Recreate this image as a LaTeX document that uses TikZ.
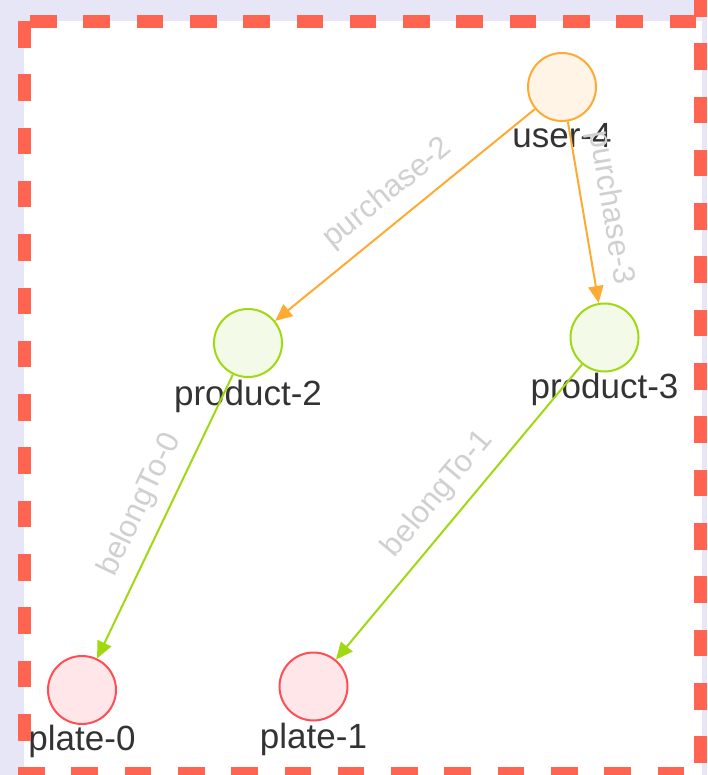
\documentclass[tikz,border=0pt]{standalone}
\usepackage{fontspec}
\setmainfont{Liberation Sans}
\usetikzlibrary{arrows.meta}
\definecolor{bgc}{HTML}{E6E6F6}
\definecolor{brd}{HTML}{FF6450}
\definecolor{ostroke}{HTML}{FFAA33}
\definecolor{ofill}{HTML}{FFF4E6}
\definecolor{gstroke}{HTML}{A0D911}
\definecolor{gfill}{HTML}{F3FAE8}
\definecolor{rstroke}{HTML}{FF4D55}
\definecolor{rfill}{HTML}{FFE6E8}
\definecolor{txt}{HTML}{333333}
\definecolor{elab}{HTML}{D0D0D0}
\begin{document}
\begin{tikzpicture}[x=1pt,y=-1pt,
  vnode/.style={circle, minimum size=68pt, inner sep=0pt, line width=2pt},
  unode/.style={vnode, draw=ostroke, fill=ofill},
  pnode/.style={vnode, draw=gstroke, fill=gfill},
  lnode/.style={vnode, draw=rstroke, fill=rfill},
  nlabel/.style={anchor=base, text=txt, font=\fontsize{35}{40}\selectfont, inner sep=0pt},
  elabel/.style={midway, sloped, above=12pt, text=elab, font=\fontsize{31}{36}\selectfont, inner sep=0pt},
  oedge/.style={draw=ostroke, line width=2pt, -{Triangle[length=17pt,width=15pt]}},
  gedge/.style={draw=gstroke, line width=2pt, -{Triangle[length=17pt,width=15pt]}},
  dashln/.style={draw=brd, line width=13pt, dash pattern=on 26.6pt off 26.7pt}]
\useasboundingbox (0,0) rectangle (707,775);
\clip (0,0) rectangle (707,775);
\fill[bgc] (0,0) rectangle (707,775);
\fill[white] (24,21) rectangle (702,775);

\node[unode] (u4) at (562,87) {};
\node[pnode] (p2) at (248,343) {};
\node[pnode] (p3) at (604.5,337.5) {};
\node[lnode] (pl0) at (82,690) {};
\node[lnode] (pl1) at (313.5,686.5) {};

\node[nlabel] (u4t) at (562,148) {user-4};
\node[nlabel] (p2t) at (248,405) {product-2};
\node[nlabel] (p3t) at (604.5,398) {product-3};
\node[nlabel] (pl0t) at (82,750) {plate-0};
\node[nlabel] (pl1t) at (313.5,748) {plate-1};

\draw[oedge] (u4) -- (p2) node[elabel] {purchase-2};
\draw[oedge] (u4) -- (p3) node[elabel] {purchase-3};
\draw[gedge] (p2) -- (pl0) node[elabel] {belongTo-0};
\draw[gedge] (p3) -- (pl1) node[elabel] {belongTo-1};

\draw[dashln] (30,21.5) -- (707,21.5);
\draw[dashln] (24,21) -- (24,775);
\draw[dashln] (700.5,-10) -- (700.5,775);
\draw[dashln] (18,773.5) -- (707,773.5);
\end{tikzpicture}
\end{document}
